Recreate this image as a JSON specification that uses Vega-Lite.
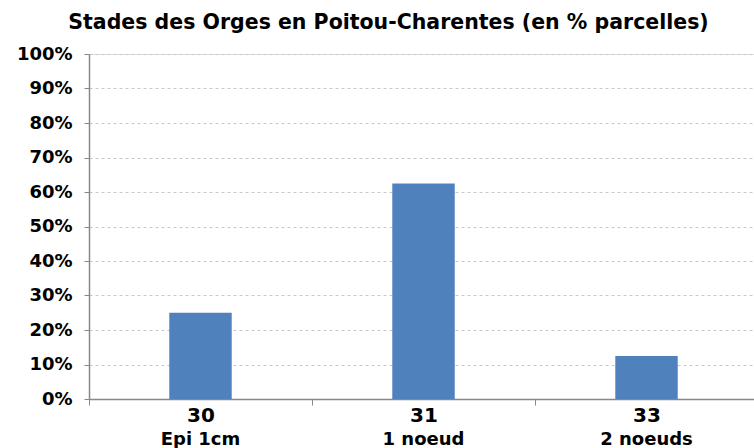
{
  "$schema": "https://vega.github.io/schema/vega-lite/v6.json",
  "autosize": "none",
  "width": 669,
  "height": 345,
  "padding": {"left": 89, "top": 54, "right": 0, "bottom": 49},
  "background": "white",
  "title": {
    "text": "Stades des Orges en Poitou-Charentes (en % parcelles)",
    "font": "DejaVu Sans",
    "fontSize": 20.5,
    "fontWeight": "bold",
    "color": "black",
    "anchor": "middle",
    "dx": -35,
    "offset": 12
  },
  "data": {
    "values": [
      {"code": "30", "stade": "Epi 1cm", "pct": 0.25},
      {"code": "31", "stade": "1 noeud", "pct": 0.625},
      {"code": "33", "stade": "2 noeuds", "pct": 0.125}
    ]
  },
  "encoding": {
    "x": {
      "field": "code",
      "type": "nominal",
      "sort": null,
      "scale": {"paddingInner": 0, "paddingOuter": 0},
      "axis": {
        "title": null,
        "labelAngle": 0,
        "labelFont": "DejaVu Sans",
        "labelFontSize": 20,
        "labelFontWeight": "bold",
        "labelColor": "black",
        "labelPadding": 0,
        "tickBand": "extent",
        "tickSize": 6,
        "tickColor": "#888888",
        "domainColor": "#888888",
        "domainWidth": 1.5,
        "grid": false
      }
    },
    "y": {
      "field": "pct",
      "type": "quantitative",
      "scale": {"domain": [0, 1]},
      "axis": {
        "title": null,
        "format": ".0%",
        "values": [0, 0.1, 0.2, 0.3, 0.4, 0.5, 0.6, 0.7, 0.8, 0.9, 1],
        "labelOverlap": false,
        "labelFont": "DejaVu Sans",
        "labelFontSize": 18,
        "labelFontWeight": "bold",
        "labelColor": "black",
        "labelPadding": 12,
        "tickSize": 5,
        "tickColor": "#888888",
        "domainColor": "#888888",
        "domainWidth": 1.5,
        "gridColor": "#c8c8c8",
        "gridDash": [3, 3],
        "gridWidth": 1
      }
    }
  },
  "layer": [
    {
      "mark": {"type": "bar", "color": "#4F81BD", "width": {"band": 0.28}}
    },
    {
      "mark": {
        "type": "text",
        "font": "DejaVu Sans",
        "fontSize": 18,
        "fontWeight": "bold",
        "color": "black",
        "baseline": "middle",
        "dy": 41
      },
      "encoding": {
        "y": {"datum": 0},
        "text": {"field": "stade"}
      }
    }
  ]
}
